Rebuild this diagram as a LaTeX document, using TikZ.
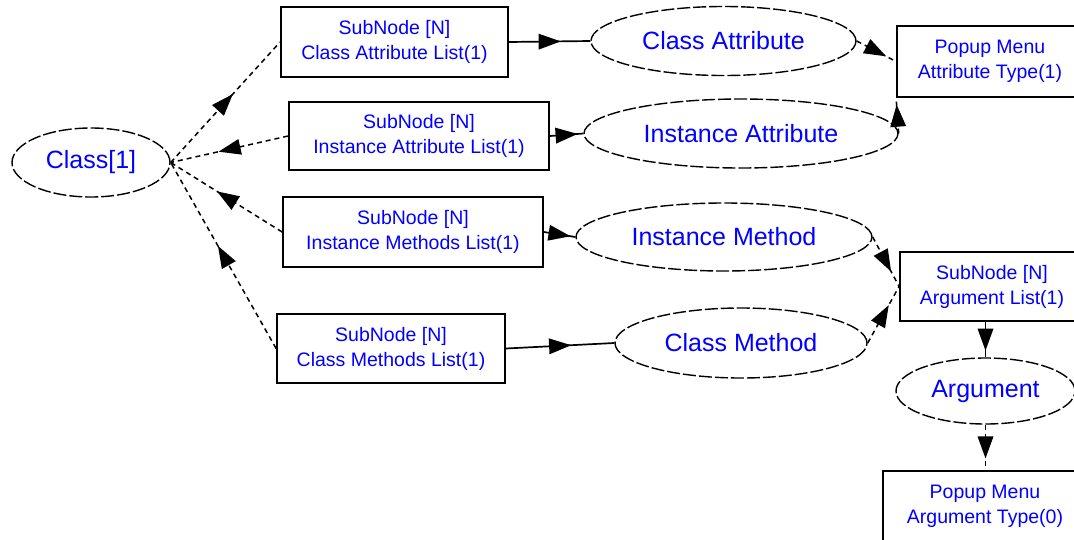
\documentclass[tikz,border=0pt]{standalone}
\usepackage{fontspec}
\setmainfont{Liberation Sans}
\usetikzlibrary{shapes.geometric,decorations.markings}

\tikzset{
  midarrow/.style={postaction={decorate},
    decoration={markings,
      mark=at position 0.5 with {\fill[black,solid] (-11,-8) -- (11,0) -- (-11,8) -- cycle;}}},
  listbox/.style={draw, rectangle, line width=1.8pt, text=blue, align=center,
    inner sep=0pt, font=\fontsize{19.5}{25}\selectfont},
  topic/.style={draw, ellipse, line width=1.4pt, dash pattern=on 13pt off 3pt,
    text=blue, inner sep=0pt, font=\fontsize{25}{30}\selectfont},
  solidlink/.style={line width=1.7pt, midarrow},
  dashlink/.style={line width=1.5pt, dash pattern=on 5pt off 4pt, midarrow}
}

\begin{document}
\begin{tikzpicture}[x=1pt, y=-1pt]
  \fill[white] (0,0) rectangle (1074,539);
  \useasboundingbox (0,0) rectangle (1074,539);

  % root class
  \node[topic, minimum width=158pt, minimum height=69pt] (class) at (91,162.5) {Class[1]};

  % sub-node lists
  \node[listbox, minimum width=227pt, minimum height=70pt] (cal) at (394.5,42) {SubNode [N]\\Class Attribute List(1)};
  \node[listbox, minimum width=260pt, minimum height=68pt] (ial) at (419,136) {SubNode [N]\\Instance Attribute List(1)};
  \node[listbox, minimum width=260pt, minimum height=70pt] (iml) at (413,232) {SubNode [N]\\Instance Methods List(1)};
  \node[listbox, minimum width=228pt, minimum height=69pt] (cml) at (391,348.5) {SubNode [N]\\Class Methods List(1)};

  % members
  \node[topic, minimum width=265pt, minimum height=69pt] (ca) at (723.5,41) {Class Attribute};
  \node[topic, minimum width=314pt, minimum height=69pt] (ia) at (741,133.5) {Instance Attribute};
  \node[topic, minimum width=296pt, minimum height=68pt] (im) at (724,237) {Instance Method};
  \node[topic, minimum width=252pt, minimum height=70pt] (cm) at (741,343) {Class Method};

  % right column
  \node[listbox, minimum width=186pt, minimum height=71pt] (pat) at (990,61.5) {Popup Menu\\Attribute Type(1)};
  \node[listbox, minimum width=184pt, minimum height=69pt] (arglist) at (992,286.5) {SubNode [N]\\Argument List(1)};
  \node[topic, minimum width=179pt, minimum height=66pt] (arg) at (985.5,391) {Argument};
  \node[listbox, minimum width=204pt, minimum height=70pt] (pargt) at (985,506) {Popup Menu\\Argument Type(0)};

  % class to its lists
  \draw[dashlink] (class.east) -- (cal.west);
  \draw[dashlink] (ial.west) -- (class.east);
  \draw[dashlink] (iml.west) -- (class.east);
  \draw[dashlink] (cml.west) -- (class.east);

  % lists to members
  \draw[solidlink] (cal.east) -- (ca.west);
  \draw[solidlink] (ial.east) -- (ia.west);
  \draw[solidlink] (iml.east) -- (im.west);
  \draw[solidlink] (cml.east) -- (cm.west);

  % members to attribute type / argument list
  \draw[dashlink] (ca.east) -- (pat.west);
  \draw[dashlink] (ia.east) -- (pat.south west);
  \draw[dashlink] (im.east) -- (arglist.west);
  \draw[dashlink] (cm.east) -- (arglist.west);

  % argument chain
  \draw[solidlink] (arg.north |- arglist.south) -- (arg.north);
  \draw[dashlink] (arg.south) -- (arg.south |- pargt.north);
\end{tikzpicture}
\end{document}
